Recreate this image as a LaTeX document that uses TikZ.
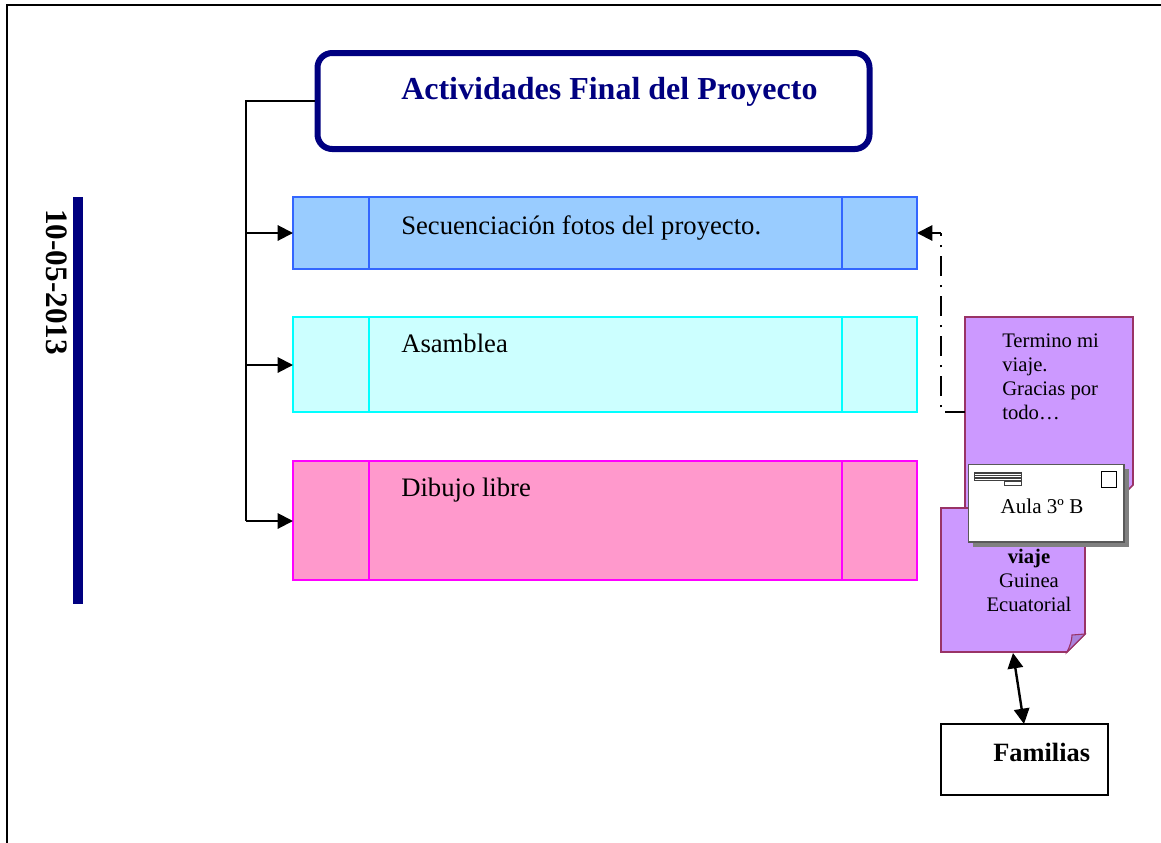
\documentclass[tikz,border=0pt]{standalone}
\usepackage{fontspec}
\setmainfont{Liberation Serif}
\usetikzlibrary{arrows.meta}
\definecolor{navy}{RGB}{0,0,128}
\definecolor{blueF}{RGB}{153,204,255}
\definecolor{blueD}{RGB}{51,102,255}
\definecolor{cyanF}{RGB}{204,255,255}
\definecolor{cyanD}{RGB}{0,255,255}
\definecolor{pinkF}{RGB}{255,153,204}
\definecolor{pinkD}{RGB}{255,0,255}
\definecolor{purF}{RGB}{204,153,255}
\definecolor{purD}{RGB}{153,51,102}
\definecolor{fold}{RGB}{170,130,220}
\tikzset{
 x=0.75pt,y=-0.75pt,
 conn/.style={draw=black,line width=2.2pt},
 arr/.style={draw=black,line width=1.5pt,-{Triangle[length=11.5pt,width=11.5pt]}},
 arrb/.style={draw=black,line width=1.8pt,{Triangle[length=11.5pt,width=11.5pt]}-{Triangle[length=11.5pt,width=11.5pt]}},
 procbox/.style={line width=1pt},
 note/.style={draw=purD,fill=purF,line width=1.2pt,line join=miter},
 lab/.style={inner sep=0pt,anchor=base west,font=\fontsize{20}{24}\selectfont},
 small/.style={inner sep=0pt,font=\fontsize{15.5}{18}\selectfont}
}
\begin{document}
\begin{tikzpicture}
\useasboundingbox (0,0) rectangle (1161,843);
\fill[white] (0,0) rectangle (1161,843);
% frame
\draw[line width=1.5pt] (7,843) -- (7,4.5) -- (1161,4.5);
% date bar
\fill[navy] (73,197) rectangle (83,604);
\node[rotate=-90,inner sep=0pt,anchor=base west,font=\bfseries\fontsize{23.4}{26}\selectfont] (date) at (46,209) {10-05-2013};
% header
\node[draw=navy,line width=4.5pt,rounded corners=11pt,minimum width=414pt,minimum height=72pt,inner sep=0pt,anchor=north west] (head) at (314.5,50) {};
\node[inner sep=0pt,anchor=base west,text=navy,font=\bfseries\fontsize{24}{28}\selectfont] (headt) at (401,99) {Actividades Final del Proyecto};
% process boxes
\foreach \n/\f/\d/\ya/\yb in {b1/blueF/blueD/197/269,b2/cyanF/cyanD/317/412,b3/pinkF/pinkD/461/580}{
 \node[draw=\d,fill=\f,procbox,inner sep=0pt,anchor=north west,outer sep=0pt,minimum width=468pt,minimum height={(\yb-\ya)*0.75pt}] (\n) at (293,\ya) {};
 \draw[\d,procbox] (369,\ya) -- (369,\yb) (842,\ya) -- (842,\yb);
}
\node[lab] (t1) at (401,234) {Secuenciación fotos del proyecto.};
\node[lab] (t2) at (401,352) {Asamblea};
\node[lab] (t3) at (401,496) {Dibujo libre};
% connectors
\coordinate (trunkTop) at (246,101);
\coordinate (trunkBot) at (246,521);
\draw[conn,line join=miter] (head.west |- trunkTop) -- (trunkTop) -- (trunkBot);
\draw[arr] (246,233) -- (b1.west |- 0,233);
\draw[arr] (246,365) -- (b2.west |- 0,365);
\draw[arr] (trunkBot) -- (b3.west |- trunkBot);
% notes
\draw[note] (965,317) -- (1133,317) -- (1133,485) -- (1108,510) -- (965,510) -- cycle;
\coordinate (n1w) at (965,412);
\coordinate (c1) at (941,412);
\coordinate (c2) at (941,233);
\draw[draw=black,line width=1.6pt,dash pattern=on 15pt off 6.4pt on 1.6pt off 7pt] (n1w) -- (c1) -- (c2);
\draw[arr] (c2) -- (b1.east |- c2);
\node[small,anchor=north west,align=left] (t4) at (1002,333.5) {Termino mi\\viaje.\\Gracias por\\todo…};
% second note
\draw[note] (941,508) -- (1085,508) -- (1085,634) -- (1067,652) -- (941,652) -- cycle;
\draw[note,fill=fold,line width=0.8pt] (1085,634) -- (1072,635) .. controls (1072,640) and (1070,646) .. (1067,652) -- cycle;
\node[small,align=center,anchor=north] (t5) at (1029,549) {\textbf{viaje}\\Guinea\\Ecuatorial};
% letter
\fill[gray] (973,469) rectangle (1129,547);
\node[draw=black!65,fill=white,line width=0.9pt,inner sep=0pt,anchor=north west,minimum width=116.5pt,minimum height=58pt] (letter) at (968,464) {};
\fill[black!75] (974,472) rectangle (1022,481);
\foreach \yy in {474,476.5,479}\draw[white,line width=0.5pt] (975,\yy) -- (1021,\yy);
\draw[black!75,fill=white,line width=0.6pt] (1004,481) rectangle (1021,485);
\node[draw=black,fill=white,line width=0.7pt,inner sep=0pt,anchor=north west,minimum width=11pt,minimum height=12pt] (stamp) at (1101,471) {};
\node[inner sep=0pt,font=\fontsize{15.8}{18}\selectfont,anchor=base] (t6) at (1042,513) {Aula 3º B};
% familias
\node[draw=black,line width=1.5pt,inner sep=0pt,anchor=north west,minimum width=125pt,minimum height=53pt] (fam) at (940,723) {};
\node[inner sep=0pt,anchor=base west,font=\bfseries\fontsize{19.8}{22}\selectfont] (famt) at (993,761) {Familias};
\coordinate (nb) at (1013,653);
\coordinate (fb) at (1024,724);
\draw[arrb] (nb) -- (fb);
\end{tikzpicture}
\end{document}
